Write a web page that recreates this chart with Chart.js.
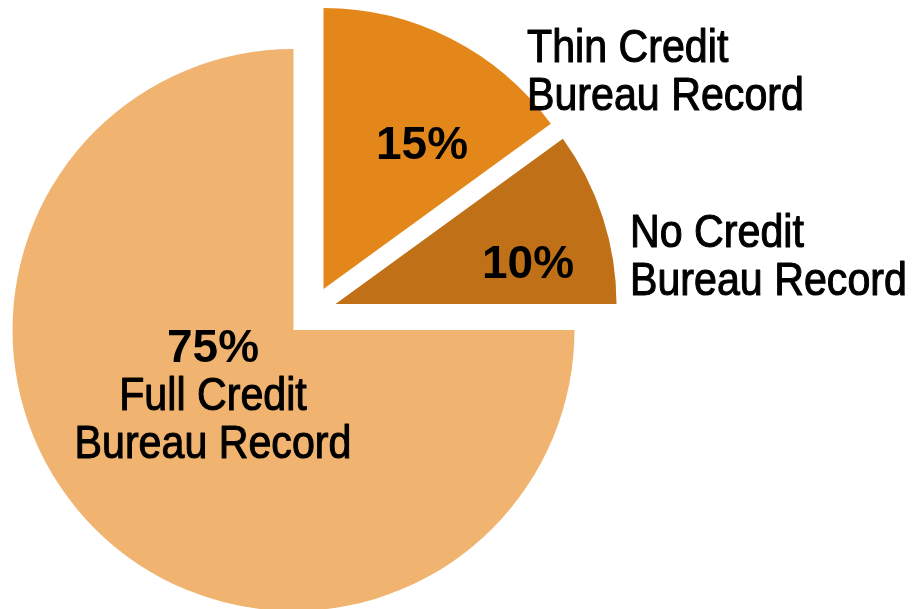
<!DOCTYPE html>
<html>
<head>
<meta charset="utf-8">
<script src="https://cdn.jsdelivr.net/npm/chart.js@4.4.1/dist/chart.umd.min.js"></script>
<style>
  html, body { margin: 0; padding: 0; background: #fff; }
  #wrap { width: 913px; height: 609px; position: relative; }
</style>
</head>
<body>
<div id="wrap"><canvas id="chart" width="913" height="609"></canvas></div>
<script>
// ==================== DATA ====================
const categories = [
  ['Thin Credit', 'Bureau Record'],
  ['No Credit', 'Bureau Record'],
  ['Full Credit', 'Bureau Record']
];
const shares = [15, 10, 75];

// ==================== STYLE ====================
const sliceColors = ['#E4871A', '#C07118', '#F0B470'];
// exploded slices are pushed out by this much (px)
const sliceShift = [[30, -41], [42, -26], [0, 0]];
// where the text goes: percent anchor, name anchor, alignment of the name
const labelSpots = [
  { pct: [422, 159], name: [527, 62], align: 'left' },
  { pct: [528, 278], name: [630, 247], align: 'left' },
  { pct: [213, 362], name: [213, 410], align: 'center' }
];
const FONT = '"Liberation Sans", Arial, sans-serif';

// ==================== PLUGINS ====================
const explodePlugin = {
  id: 'explode',
  beforeDatasetDraw(chart, args) {
    const ctx = chart.ctx;
    args.meta.data.forEach((arc, i) => {
      ctx.save();
      ctx.translate(sliceShift[i][0], sliceShift[i][1]);
      arc.draw(ctx);
      ctx.restore();
    });
    return false;
  }
};

const labelPlugin = {
  id: 'sliceLabels',
  afterDatasetsDraw(chart) {
    const ctx = chart.ctx;
    ctx.save();
    ctx.fillStyle = '#000';
    ctx.strokeStyle = '#000';
    ctx.lineJoin = 'round';
    ctx.textBaseline = 'alphabetic';
    labelSpots.forEach((spot, i) => {
      // percent, bold
      ctx.font = 'bold 46px ' + FONT;
      ctx.textAlign = 'center';
      ctx.fillText(shares[i] + '%', spot.pct[0], spot.pct[1]);

      // name, two lines, a bit condensed and heavier
      ctx.font = '46px ' + FONT;
      ctx.textAlign = spot.align;
      ctx.lineWidth = 1.1;
      categories[i].forEach((line, j) => {
        ctx.save();
        ctx.translate(spot.name[0], spot.name[1] + j * 48);
        ctx.scale(0.895, 1);
        ctx.fillText(line, 0, 0);
        ctx.strokeText(line, 0, 0);
        ctx.restore();
      });
    });
    ctx.restore();
  }
};

// ==================== CHART ====================
new Chart(document.getElementById('chart').getContext('2d'), {
  type: 'pie',
  data: {
    labels: categories.map(c => c.join(' ')),
    datasets: [{
      data: shares,
      backgroundColor: sliceColors,
      borderWidth: 0
    }]
  },
  options: {
    responsive: false,
    devicePixelRatio: 1,
    animation: false,
    radius: 281,
    layout: { padding: { left: 0, right: 326, top: 51, bottom: 0 } },
    plugins: {
      legend: { display: false },
      tooltip: { enabled: false }
    }
  },
  plugins: [explodePlugin, labelPlugin]
});
</script>
</body>
</html>
